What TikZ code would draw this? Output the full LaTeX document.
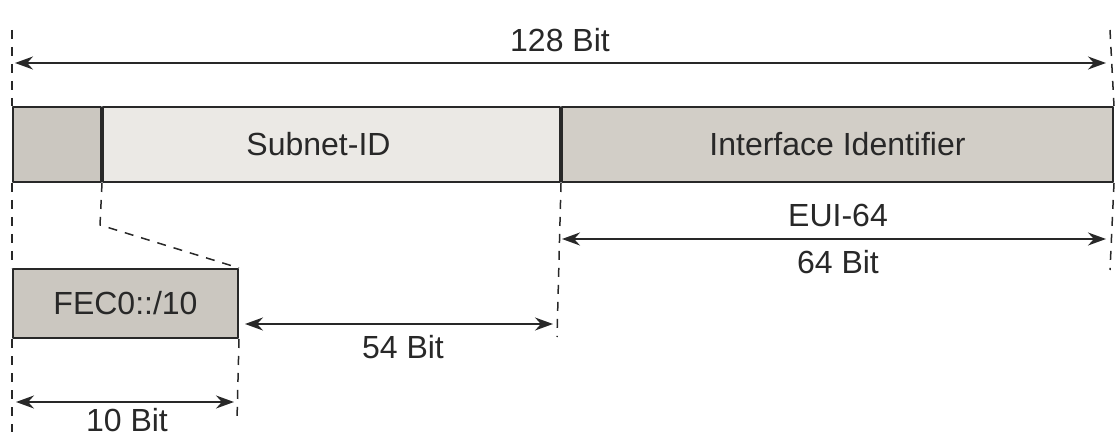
\documentclass[tikz,border=0pt]{standalone}
\usepackage{fontspec}
\setmainfont{Liberation Sans}
\usetikzlibrary{arrows.meta}
\definecolor{celldark}{RGB}{203,199,192}
\definecolor{cellmid}{RGB}{210,206,199}
\definecolor{celllight}{RGB}{235,233,229}
\definecolor{inkgray}{RGB}{40,40,40}

\begin{document}
\begin{tikzpicture}[x=0.5pt, y=-0.5pt, font=\fontsize{16}{19}\selectfont,
        line join=round, >={Stealth[length=9pt,width=6.5pt]}, color=inkgray,
        cell/.style={draw, line width=1pt, minimum height=37.5pt, inner sep=0pt,
            anchor=north west},
        guide/.style={line width=0.75pt, dash pattern=on 4.5pt off 4pt},
        dim/.style={<->, line width=0.75pt}]
        \useasboundingbox (0,0) rectangle (1119,438);
        \def \xl{12}
        \def \xr{1110}
        % the 128 bit address
        \node[cell, fill=celldark, minimum width=44pt] (pre) at (\xl,106) {};
        \node[cell, fill=celllight, minimum width=228.5pt] (subnet) at (pre.north east) {Subnet-ID\kern13pt};
        \node[cell, fill=cellmid, minimum width=275.5pt] (iface) at (subnet.north east) {Interface Identifier};
        \node[cell, fill=celldark, minimum width=112.5pt, minimum height=34.5pt] (fec) at (\xl,268) {FEC0::/10};
        % guide lines
        \coordinate (ltop) at (\xl,30);
        \coordinate (lbot) at (\xl,432);
        \coordinate (rtop) at (\xr,30);
        \coordinate (rbot) at (\xr,270);
        \coordinate (mbot) at (557,337);
        \coordinate (fbot) at (237,420);
        \coordinate (knee) at (100,225);
        \draw[guide] (ltop) -- (pre.north west);
        \draw[guide] (pre.south west) -- (fec.north west);
        \draw[guide] (fec.south west) -- (lbot);
        \draw[guide] (rtop) -- (iface.north east);
        \draw[guide] (iface.south east) -- (rbot);
        \draw[guide] (subnet.south east) -- (mbot);
        \draw[guide] (pre.south east) -- (knee) -- (fec.north east);
        \draw[guide] (fec.south east) -- (fbot);
        % bit widths
        \coordinate (a1) at (15,63);
        \coordinate (a2) at (1106,63);
        \coordinate (e1) at (562,239);
        \coordinate (e2) at (1106,239);
        \coordinate (s1) at (245,324);
        \coordinate (s2) at (553,324);
        \coordinate (t1) at (16,402);
        \coordinate (t2) at (234,402);
        \draw[dim] (a1) -- (a2);
        \draw[dim] (e1) -- (e2);
        \draw[dim] (s1) -- (s2);
        \draw[dim] (t1) -- (t2);
        \node (l128) at (560,40) {128 Bit};
        \node (leui) at (838,215) {EUI-64};
        \node (l64) at (838,262) {64 Bit};
        \node (l54) at (403,347) {54 Bit};
        \node (l10) at (127,420) {10 Bit};
    \end{tikzpicture}
\end{document}
